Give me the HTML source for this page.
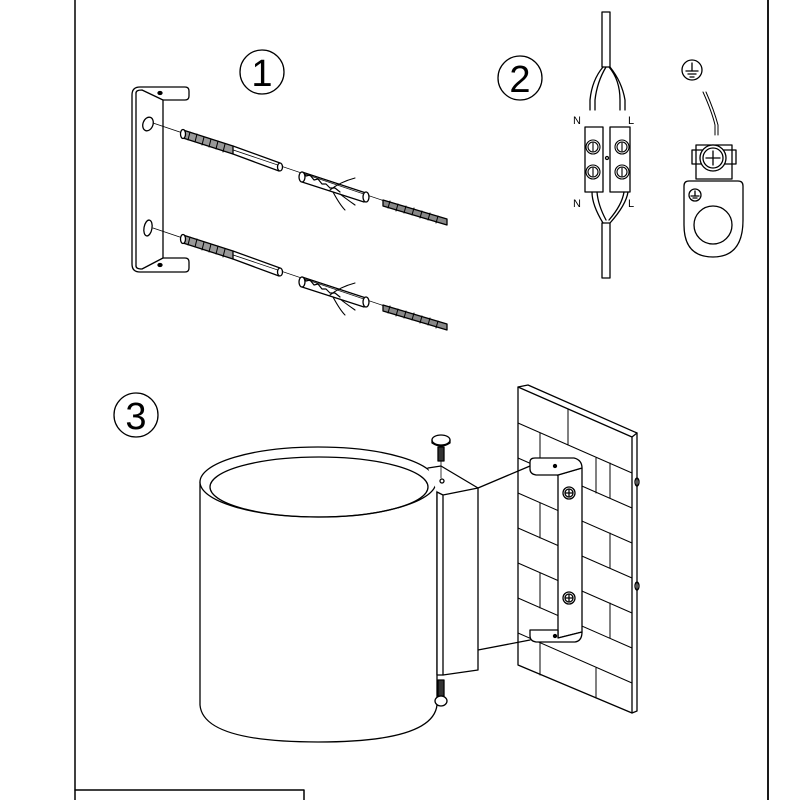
<!DOCTYPE html>
<html><head><meta charset="utf-8"><style>
html,body{margin:0;padding:0;background:#fff}
svg{display:block}
text{font-family:"Liberation Sans",sans-serif}
</style></head><body>
<svg width="800" height="800" viewBox="0 0 800 800" xmlns="http://www.w3.org/2000/svg" fill="none" stroke="#000" stroke-width="1.3" stroke-linejoin="round" stroke-linecap="round">
<!-- frame -->
<line x1="75" y1="0" x2="75" y2="800" stroke-width="1.5"/>
<line x1="768" y1="0" x2="768" y2="800" stroke-width="1.8"/>
<polyline points="75,790 304,790 304,800" stroke-width="1.5"/>

<!-- circled numbers -->
<circle cx="262" cy="72" r="22"/>
<text x="262" y="86" font-size="38" text-anchor="middle" fill="#000" stroke="none">1</text>
<circle cx="520" cy="78" r="22"/>
<text x="520" y="92" font-size="38" text-anchor="middle" fill="#000" stroke="none">2</text>
<circle cx="136" cy="415" r="22"/>
<text x="136" y="429" font-size="38" text-anchor="middle" fill="#000" stroke="none">3</text>

<!-- SECTION 1 bracket -->
<path d="M132,95 Q132,87 140,87 L185,87 Q189,87 189,91 L189,96 Q189,100 185,100 L163,100 L163,258 L185,258 Q189,258 189,262 L189,268 Q189,272 185,272 L140,272 Q132,272 132,264 Z"/>
<path d="M136,93 Q136,90 142,90 L163,100" />
<path d="M136,266 Q136,269 142,269 L163,258"/>
<line x1="136" y1="93" x2="136" y2="266"/>
<ellipse cx="160" cy="93" rx="2" ry="1.5" fill="#000"/>
<ellipse cx="160" cy="265" rx="2" ry="1.5" fill="#000"/>
<ellipse cx="148" cy="124" rx="5" ry="7" transform="rotate(20 148 124)"/>
<ellipse cx="148" cy="228" rx="4" ry="8" transform="rotate(10 148 228)"/>
<g id="set1">
<line x1="153" y1="123" x2="447" y2="222" stroke-width="0.8"/>
<path d="M183,130 L233,146 L233,154 L183,138 Z" fill="#999"/>
<path d="M190,132 L188,140 M197,134 L195,142 M204,137 L202,145 M211,139 L209,147 M218,141 L216,149 M225,144 L223,152" stroke-width="1"/>
<path d="M233,146 L280,163 M233,154 L279,171"/>
<ellipse cx="280" cy="167" rx="2.5" ry="4" fill="#fff"/>
<ellipse cx="183" cy="134" rx="2.5" ry="4.5" fill="#fff"/>
<path d="M302,172 L366,193 M302,182 L364,202" />
<path d="M302,172 L306,176 L310,175 L314,180 L318,179 L322,184 L326,184 L330,188 L335,188 L340,192" stroke-width="1.2"/>
<ellipse cx="302" cy="177" rx="3" ry="5" fill="#fff"/>
<ellipse cx="366" cy="197" rx="3" ry="5" fill="#fff"/>
<path d="M330,190 Q340,182 355,178 M333,192 Q340,205 345,210 M340,194 Q345,198 355,205" stroke-width="1.1"/>
<path d="M383,200 L447,219 L447,225 L383,206 Z" fill="#888"/>
<path d="M390,201 L388,208 M398,204 L396,211 M406,206 L404,213 M414,208 L412,215 M422,211 L420,218 M430,213 L428,220 M438,216 L436,223" stroke-width="1"/>
</g>
<use href="#set1" transform="translate(0,105)"/>

<!-- SECTION 2 connector -->
<rect x="602" y="12" width="8" height="55"/>
<path d="M603,67 Q592,80 590,100 L590,110 M595,110 L595,100 Q597,82 606,67"/>
<path d="M609,67 Q620,80 620,100 L620,110 M625,110 L625,100 Q622,82 610,67"/>
<text x="573" y="124" font-size="11" fill="#000" stroke="none">N</text>
<text x="628" y="124" font-size="11" fill="#000" stroke="none">L</text>
<rect x="585" y="127" width="18" height="65"/>
<rect x="610" y="127" width="20" height="65"/>
<circle cx="607" cy="158" r="1.5"/>
<g stroke-width="1.1">
<circle cx="593" cy="147" r="7"/><circle cx="593" cy="147" r="5"/><line x1="593" y1="143" x2="593" y2="151"/>
<circle cx="622" cy="147" r="7"/><circle cx="622" cy="147" r="5"/><line x1="622" y1="143" x2="622" y2="151"/>
<circle cx="593" cy="172" r="7"/><circle cx="593" cy="172" r="5"/><line x1="593" y1="168" x2="593" y2="176"/>
<circle cx="622" cy="172" r="7"/><circle cx="622" cy="172" r="5"/><line x1="622" y1="168" x2="622" y2="176"/>
</g>
<text x="573" y="207" font-size="11" fill="#000" stroke="none">N</text>
<text x="628" y="207" font-size="11" fill="#000" stroke="none">L</text>
<path d="M592,192 Q592,205 603,223 M597,192 Q598,205 606,220 M624,192 Q622,205 609,220 M628,192 Q626,205 610,223"/>
<rect x="602" y="223" width="8" height="55"/>

<!-- ground -->
<circle cx="692" cy="70" r="10"/>
<line x1="692" y1="63" x2="692" y2="71"/><line x1="686" y1="71" x2="698" y2="71"/><line x1="688" y1="74" x2="696" y2="74"/><line x1="690" y1="77" x2="694" y2="77"/>
<path d="M703,92 Q712,112 715,125 L715,135 M706,92 Q714,110 718,125 L718,135" stroke-width="1"/>
<rect x="696" y="145" width="36" height="34"/>
<rect x="692" y="150" width="44" height="14"/>
<circle cx="713" cy="158" r="13" fill="#fff"/><circle cx="713" cy="158" r="10"/>
<line x1="713" y1="151" x2="713" y2="165"/><line x1="706" y1="158" x2="720" y2="158"/>
<path d="M684,186 Q684,181 689,181 L738,181 Q743,181 743,186 L743,220 Q743,257 713,257 Q684,257 684,225 Z"/>
<circle cx="713" cy="225" r="19"/>
<circle cx="695" cy="195" r="6"/>
<line x1="695" y1="191" x2="695" y2="196"/><line x1="691" y1="196" x2="699" y2="196"/><line x1="693" y1="198" x2="697" y2="198"/>

<!-- SECTION 3 wall plate -->
<path d="M518,387 L528,385 L637,433 L637,711 L632,713 L518,665 Z" fill="#fff"/>
<path d="M518,387 L632,437 L632,713 M632,437 L637,433"/>
<g stroke-width="1">
<line x1="518" y1="423" x2="632" y2="473"/>
<line x1="518" y1="458" x2="632" y2="508"/>
<line x1="518" y1="493" x2="632" y2="543"/>
<line x1="518" y1="528" x2="632" y2="578"/>
<line x1="518" y1="563" x2="632" y2="613"/>
<line x1="518" y1="598" x2="632" y2="648"/>
<line x1="518" y1="633" x2="632" y2="683"/>
<line x1="568" y1="409" x2="568" y2="445"/>
<line x1="540" y1="433" x2="540" y2="468"/><line x1="596" y1="458" x2="596" y2="493"/>
<line x1="540" y1="503" x2="540" y2="538"/><line x1="610" y1="533" x2="610" y2="568"/>
<line x1="540" y1="573" x2="540" y2="608"/><line x1="610" y1="603" x2="610" y2="638"/>
<line x1="540" y1="643" x2="540" y2="675"/><line x1="596" y1="668" x2="596" y2="698"/>
<line x1="610" y1="463" x2="610" y2="498"/>
</g>
<ellipse cx="637" cy="482" rx="2" ry="4"/>
<ellipse cx="637" cy="586" rx="2" ry="4"/>

<!-- arm -->
<line x1="478" y1="488" x2="530" y2="466"/>
<line x1="478" y1="650" x2="530" y2="640"/>

<!-- wall bracket -->
<path d="M558,475 L582,468 L582,632 L558,638 Z" fill="#fff"/>
<path d="M530,462 Q530,458 535,458 L574,458 Q582,460 582,468 L558,475 L536,475 Q530,474 530,469 Z" fill="#fff"/>
<path d="M530,630 L558,630 L558,638 L582,632 Q582,641 575,642 L536,642 Q530,641 530,636 Z" fill="#fff"/>
<circle cx="555" cy="466" r="1.5" fill="#000"/>
<circle cx="555" cy="636" r="1.5" fill="#000"/>
<circle cx="569" cy="493" r="6"/><circle cx="569" cy="493" r="4"/>
<line x1="569" y1="490" x2="569" y2="496"/><line x1="566" y1="493" x2="572" y2="493"/>
<circle cx="569" cy="598" r="6"/><circle cx="569" cy="598" r="4"/>
<line x1="569" y1="595" x2="569" y2="601"/><line x1="566" y1="598" x2="572" y2="598"/>

<!-- cylinder -->
<path d="M200,482 L200,705 Q203,742 318,742 Q433,742 437,705 L437,482" fill="#fff"/>
<ellipse cx="318" cy="482" rx="118" ry="35" fill="#fff"/>
<ellipse cx="319" cy="487" rx="109" ry="30"/>
<!-- block -->
<path d="M428,468 L441,466 L478,488 L478,670 L443,675 L437,675 L437,492" fill="#fff"/>
<path d="M437,492 L443,495 L478,488 M443,495 L443,675"/>
<circle cx="442" cy="481" r="2"/>
<!-- screws -->
<ellipse cx="441" cy="440" rx="9" ry="5" fill="#fff"/>
<path d="M432,440 L432,443 Q441,449 450,443 L450,440"/>
<rect x="438" y="447" width="6" height="14" fill="#333"/>
<line x1="441" y1="461" x2="441" y2="478" stroke-width="0.8"/>
<rect x="438" y="680" width="6" height="16" fill="#333"/>
<ellipse cx="441" cy="701" rx="6" ry="5" fill="#fff"/>
</svg>
</body></html>
